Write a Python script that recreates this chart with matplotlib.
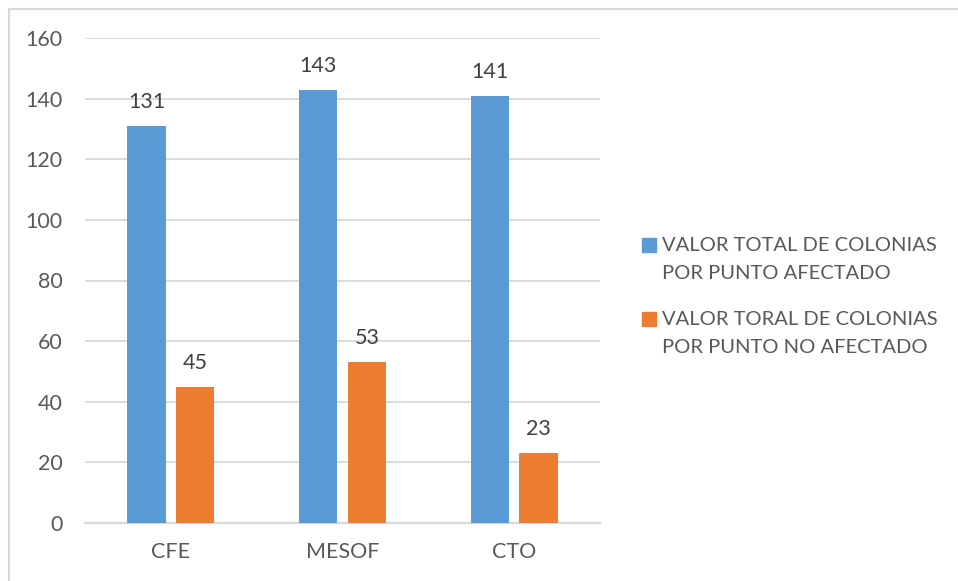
import numpy as np
import matplotlib.pyplot as plt
from matplotlib.lines import Line2D
from matplotlib.patches import Rectangle

# counts of colonies per sampling site
sites = ["CFE", "MESOF", "CTO"]
afectado = [131, 143, 141]
no_afectado = [45, 53, 23]
series_labels = ["VALOR TOTAL DE COLONIAS\nPOR PUNTO AFECTADO",
                 "VALOR TORAL DE COLONIAS\nPOR PUNTO NO AFECTADO"]
yticks = [0, 20, 40, 60, 80, 100, 120, 140, 160]

BLUE = "#5B9BD5"
ORANGE = "#ED7D31"
TEXT = "#595959"
GRID = "#D9D9D9"

plt.rcParams['font.family'] = ['Lato', 'DejaVu Sans']

W, H = 958, 581
fig = plt.figure(figsize=(W / 100, H / 100), dpi=100)
ax = fig.add_axes([85 / W, (H - 523) / H, (600 - 85) / W, (523 - 38) / H])

x = np.arange(len(sites))
width = 0.224
off = 0.142
b1 = ax.bar(x - off, afectado, width, color=BLUE, zorder=3)
b2 = ax.bar(x + off, no_afectado, width, color=ORANGE, zorder=3)
for bars in (b1, b2):
    ax.bar_label(bars, padding=10, fontsize=15.5, color="#404040")

ax.set_xlim(-0.5, 2.5)
ax.set_ylim(0, 160)
ax.set_yticks(yticks)
ax.set_xticks(x, sites)
ax.tick_params(axis='y', length=0, pad=16, labelsize=15.5, labelcolor=TEXT)
ax.tick_params(axis='x', length=0, pad=14, labelsize=15.5, labelcolor=TEXT)
ax.yaxis.grid(True, color=GRID, linewidth=1.3, zorder=0)
for side in ("top", "right", "left"):
    ax.spines[side].set_visible(False)
ax.spines["bottom"].set_color(GRID)
ax.spines["bottom"].set_linewidth(1.6)

# legend drawn by hand so the swatch sits next to the first text line
for i, (lab, col) in enumerate(zip(series_labels, [BLUE, ORANGE])):
    ytop = 238 + i * 74
    fig.patches.append(Rectangle((642 / W, 1 - (ytop + 14) / H), 14 / W, 14 / H,
                                 transform=fig.transFigure, color=col))
    fig.text(662 / W, 1 - (ytop - 1) / H, lab, fontsize=14.5, color=TEXT,
             va='top', ha='left', linespacing=1.8)

# chart frame
fig.lines.append(Line2D([9 / W, 1], [1 - 9 / H] * 2, transform=fig.transFigure,
                        color=GRID, linewidth=1.5))
fig.lines.append(Line2D([9 / W] * 2, [0, 1 - 9 / H], transform=fig.transFigure,
                        color=GRID, linewidth=1.5))

fig.savefig("out.png", dpi=100)
